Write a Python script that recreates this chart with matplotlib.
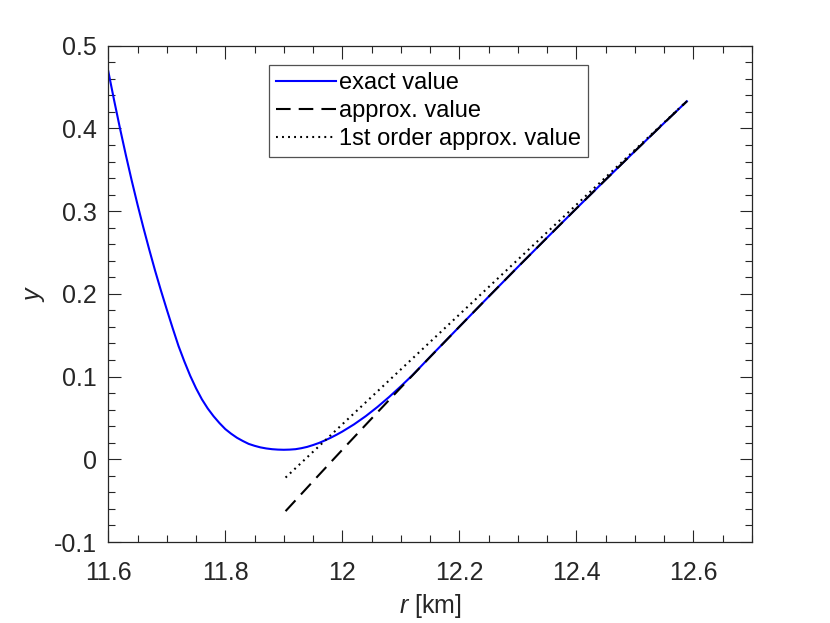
import matplotlib
matplotlib.use("Agg")
import matplotlib.pyplot as plt
from matplotlib.ticker import FixedLocator, MultipleLocator

plt.rcParams['font.family'] = ['Liberation Sans', 'DejaVu Sans']
plt.rcParams['mathtext.fontset'] = 'custom'
plt.rcParams['mathtext.it'] = 'Liberation Sans:italic'
plt.rcParams['mathtext.rm'] = 'Liberation Sans'

# ---- data ----
exact_r = [11.60, 11.61, 11.62, 11.63, 11.64, 11.65, 11.66, 11.67, 11.68, 11.69,
           11.70, 11.71, 11.72, 11.73, 11.74, 11.75, 11.76, 11.77, 11.78, 11.79,
           11.80, 11.81, 11.82, 11.83, 11.84, 11.85, 11.86, 11.87, 11.88, 11.89,
           11.90, 11.91, 11.92, 11.93, 11.94, 11.95, 11.96, 11.97, 11.98, 11.99,
           12.00, 12.02, 12.04, 12.06, 12.08, 12.10, 12.12, 12.15, 12.20, 12.25,
           12.30, 12.35, 12.40, 12.45, 12.50, 12.55, 12.589]
exact_y = [0.469, 0.4338, 0.400, 0.3678, 0.337, 0.3078, 0.280, 0.2535, 0.228, 0.204,
           0.181, 0.1586, 0.137, 0.1183, 0.101, 0.0858, 0.0725, 0.0614, 0.052, 0.0438,
           0.0365, 0.0309, 0.026, 0.0221, 0.0186, 0.0163, 0.0144, 0.0131, 0.0122, 0.0117,
           0.0115, 0.0117, 0.0122, 0.0134, 0.0150, 0.0172, 0.0197, 0.0227, 0.0260, 0.0296,
           0.0335, 0.0422, 0.0521, 0.0632, 0.0753, 0.0882, 0.1017, 0.1238, 0.1602, 0.1965,
           0.2324, 0.2679, 0.3031, 0.3379, 0.3724, 0.4065, 0.4328]

approx_r = [11.903, 11.95, 12.00, 12.05, 12.10, 12.15, 12.20, 12.25, 12.30, 12.35,
            12.40, 12.45, 12.50, 12.55, 12.589]
approx_y = [-0.0627, -0.0266, 0.0115, 0.0492, 0.0866, 0.1236, 0.1602, 0.1965, 0.2324, 0.2679,
            0.3031, 0.3379, 0.3724, 0.4065, 0.4328]

first_r = [11.903, 12.589]
first_y = [-0.0221, 0.4330]

labels = ['exact value', 'approx. value', '1st order approx. value']
xticks = [11.6, 11.8, 12.0, 12.2, 12.4, 12.6]
xticklabels = ['11.6', '11.8', '12', '12.2', '12.4', '12.6']
yticks = [-0.1, 0.0, 0.1, 0.2, 0.3, 0.4, 0.5]
yticklabels = ['-0.1', '0', '0.1', '0.2', '0.3', '0.4', '0.5']

# ---- figure ----
W, H = 830, 623
fig = plt.figure(figsize=(W / 100, H / 100), dpi=100)
ax = fig.add_axes([108.3 / W, 1 - 542 / H, (751.8 - 108.3) / W, (542 - 45.7) / H])

ink = '#262626'
lw = 1.5
fs = 18
ax.plot(exact_r, exact_y, color=(0, 0, 1), lw=lw, label=labels[0])
ax.plot(approx_r, approx_y, color='black', lw=lw, linestyle=(0, (7.0, 3.9)), label=labels[1])
ax.plot(first_r, first_y, color='black', lw=lw, linestyle=(0, (0.9, 2.0)), label=labels[2])

ax.set_xlim(11.6, 12.7)
ax.set_ylim(-0.1, 0.5)
ax.xaxis.set_major_locator(FixedLocator(xticks))
ax.set_xticklabels(xticklabels)
ax.yaxis.set_major_locator(FixedLocator(yticks))
ax.set_yticklabels(yticklabels)
ax.xaxis.set_minor_locator(MultipleLocator(0.05))
ax.yaxis.set_minor_locator(MultipleLocator(0.02))

ax.tick_params(which='both', direction='in', top=True, right=True, color=ink,
               width=0.8, labelcolor=ink, labelsize=fs)
ax.tick_params(which='major', length=9)
ax.tick_params(which='minor', length=4.7)
ax.tick_params(axis='x', which='major', pad=14)
ax.tick_params(axis='y', which='major', pad=8)
for s in ax.spines.values():
    s.set_color(ink)
    s.set_linewidth(0.9)

ax.set_xlabel(r'$\mathit{r}$ [km]', fontsize=fs, color=ink, labelpad=5)
ax.set_ylabel(r'$\mathit{y}$', fontsize=fs, color=ink, labelpad=5)

leg = ax.legend(loc='upper center', bbox_to_anchor=(0.497, 0.961), borderaxespad=0,
                fontsize=17, frameon=True, fancybox=False, handlelength=2.55,
                handletextpad=0.12, borderpad=0.3, labelspacing=0.25)
leg.get_frame().set_edgecolor(ink)
leg.get_frame().set_linewidth(0.9)
for t in leg.get_texts():
    t.set_color('black')

fig.savefig('out.png', dpi=100)
